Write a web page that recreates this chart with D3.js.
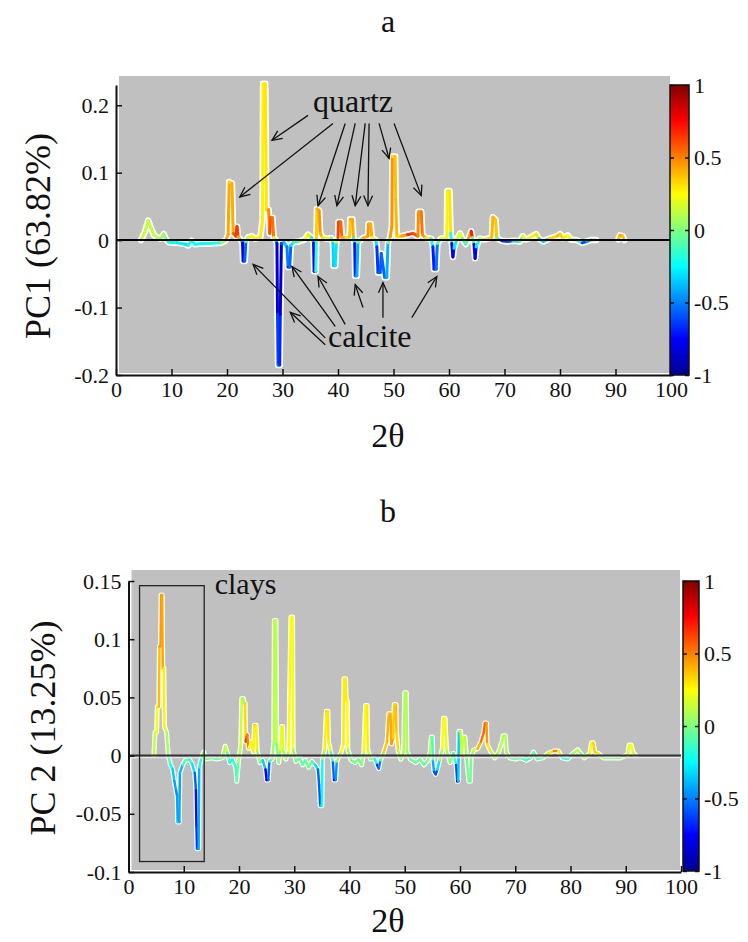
<!DOCTYPE html>
<html>
<head>
<meta charset="utf-8">
<script src="https://cdn.jsdelivr.net/npm/d3@7"></script>
<style>
  body { margin: 0; background: #fff; }
  text { font-family: "Liberation Serif", "Times New Roman", serif; fill: #111; }
</style>
</head>
<body>
<svg id="fig" width="748" height="942"></svg>
<script>

/////////////////////////////////////////////
// datos
/////////////////////////////////////////////

var xTicks    = [0, 10, 20, 30, 40, 50, 60, 70, 80, 90, 100];
var pc1Ticks  = [-0.2, -0.1, 0, 0.1, 0.2];
var pc2Ticks  = [-0.1, -0.05, 0, 0.05, 0.1, 0.15];
var cbarTicks = [-1, -0.5, 0, 0.5, 1];

// escala jet de matlab
var jetStops  = [-1, -0.75, -0.25, 0.25, 0.75, 1];
var jetColors = ["#00008f", "#0000ff", "#00ffff", "#ffff00", "#ff0000", "#800000"];

// [2theta, carga, color]  -- PC1
var pc1 = [
  [4.5, 0.000, 0.15], [5.2, 0.012, 0.15], [5.8, 0.029, 0.12], [6.3, 0.018, 0.12],
  [6.8, 0.008, 0.15], [7.4, 0.004, 0.1], [8.0, 0.002, 0.1], [8.6, 0.009, 0.05],
  [9.0, 0.001, 0.0], [9.5, -0.003, -0.2], [11.0, -0.004, -0.25], [12.5, -0.006, -0.3],
  [13.0, -0.008, -0.3], [13.6, -0.001, -0.1], [14.2, -0.006, -0.25], [15.5, -0.005, -0.25],
  [17.0, -0.005, -0.2], [19.0, -0.004, -0.2], [19.8, 0.000, 0.3], [20.2, 0.008, 0.5],
  [20.4, 0.086, 0.35], [20.9, 0.084, 0.32], [21.1, 0.010, 0.5], [21.6, 0.006, 0.6],
  [21.8, 0.020, 0.7], [22.0, 0.005, 0.6], [22.5, 0.000, 0.2], [22.8, -0.004, -0.8],
  [22.9, -0.031, -0.8], [23.2, -0.031, -0.6], [23.4, -0.002, -0.5], [23.8, 0.004, 0.25],
  [24.5, 0.006, 0.3], [25.0, 0.002, 0.25], [26.0, 0.004, 0.3], [26.4, 0.030, 0.28],
  [26.5, 0.232, 0.27], [26.9, 0.232, 0.27], [27.1, 0.045, 0.32], [27.5, 0.045, 0.35],
  [27.7, 0.010, 0.6], [27.9, 0.033, 0.6], [28.2, 0.033, 0.55], [28.4, 0.004, 0.5],
  [28.8, 0.000, 0.0], [29.0, -0.005, -0.9], [29.1, -0.110, -0.75], [29.2, -0.185, -0.5],
  [29.5, -0.185, -0.5], [29.6, -0.110, -0.85], [29.8, -0.005, -0.9], [30.3, -0.004, -0.3],
  [30.8, -0.010, -0.4], [31.0, -0.040, -0.6], [31.3, -0.040, -0.7], [31.5, -0.008, -0.4],
  [32.0, -0.003, -0.2], [33.0, -0.002, -0.1], [34.0, 0.001, 0.2], [34.6, 0.008, 0.3],
  [35.2, 0.004, 0.3], [35.6, -0.004, -0.8], [35.7, -0.046, -0.7], [36.0, -0.046, -0.6],
  [36.1, 0.000, 0.3], [36.2, 0.046, 0.38], [36.6, 0.044, 0.42], [36.8, 0.010, 0.5],
  [37.2, 0.004, 0.3], [38.0, 0.002, 0.25], [38.8, 0.003, 0.25], [39.1, -0.005, -0.3],
  [39.2, -0.038, -0.35], [39.5, -0.038, -0.4], [39.7, -0.003, -0.2], [40.0, 0.004, 0.6],
  [40.1, 0.027, 0.65], [40.5, 0.027, 0.6], [40.7, 0.004, 0.5], [41.5, 0.003, 0.3],
  [42.1, 0.005, 0.3], [42.2, 0.031, 0.42], [42.6, 0.031, 0.42], [42.8, 0.003, 0.4],
  [43.0, -0.005, -0.8], [43.1, -0.053, -0.6], [43.4, -0.053, -0.5], [43.6, -0.003, -0.3],
  [44.5, 0.003, 0.3], [45.4, 0.006, 0.5], [45.5, 0.024, 0.42], [45.9, 0.024, 0.42],
  [46.1, 0.004, 0.4], [46.8, 0.000, 0.1], [47.0, -0.010, -0.7], [47.2, -0.048, -0.6],
  [47.6, -0.048, -0.55], [47.8, -0.020, -0.6], [48.4, -0.055, -0.5], [48.8, -0.055, -0.5],
  [49.0, -0.004, -0.3], [49.4, 0.005, 0.3], [49.7, 0.020, 0.6], [49.8, 0.124, 0.32],
  [50.3, 0.124, 0.32], [50.4, 0.060, 0.42], [50.6, 0.005, 0.35], [51.5, 0.006, 0.3],
  [52.5, 0.008, 0.6], [53.5, 0.010, 0.7], [54.4, 0.006, 0.5], [54.5, 0.042, 0.45],
  [55.0, 0.042, 0.45], [55.2, 0.008, 0.6], [55.8, 0.003, 0.3], [56.8, 0.002, 0.25],
  [57.1, -0.010, -0.7], [57.3, -0.043, -0.7], [57.7, -0.043, -0.65], [57.9, -0.005, -0.4],
  [58.5, 0.002, 0.25], [59.6, 0.003, 0.25], [59.7, 0.073, 0.3], [60.1, 0.073, 0.3],
  [60.3, 0.010, 0.3], [60.5, -0.005, -0.7], [60.7, -0.025, -0.8], [60.9, -0.012, -0.7],
  [61.5, 0.003, 0.15], [62.0, 0.010, 0.25], [62.4, 0.002, 0.1], [63.0, -0.006, -0.3],
  [63.5, 0.002, 0.1], [64.0, 0.013, 0.8], [64.2, 0.004, 0.6], [64.5, -0.006, -0.7],
  [64.7, -0.027, -0.8], [64.9, -0.010, -0.7], [65.5, 0.002, 0.2], [66.5, 0.001, 0.2],
  [67.7, 0.004, 0.4], [67.9, 0.034, 0.38], [68.4, 0.030, 0.42], [68.6, 0.003, 0.3],
  [69.5, -0.001, -0.4], [70.5, -0.002, -0.9], [71.5, -0.001, -0.3], [72.8, -0.002, -0.3],
  [73.3, 0.006, 0.25], [73.8, 0.001, 0.2], [74.5, 0.003, 0.25], [75.7, 0.009, 0.3],
  [76.2, 0.002, 0.3], [77.0, -0.002, -0.9], [78.0, 0.002, 0.25], [79.5, 0.006, 0.4],
  [80.0, 0.009, 0.38], [80.5, 0.003, 0.3], [81.4, 0.007, 0.25], [81.9, 0.001, 0.2],
  [83.0, 0.000, 0.0], [84.0, -0.004, -0.3], [84.8, -0.002, -0.9], [85.5, 0.000, 0.0],
  [86.5, 0.000, 0.1], [88.0, null, 0], [90.5, 0.001, 0.3], [90.8, 0.007, 0.42],
  [91.3, 0.006, 0.42], [91.6, 0.000, 0.3]
];

// [2theta, carga, color]  -- PC2
var pc2 = [
  [4.6, 0.000, 0.1], [4.8, 0.020, 0.15], [5.1, 0.020, 0.2], [5.2, 0.042, 0.25],
  [5.5, 0.042, 0.3], [5.6, 0.094, 0.45], [5.8, 0.094, 0.45], [5.9, 0.138, 0.45],
  [6.1, 0.138, 0.45], [6.2, 0.075, 0.4], [6.4, 0.075, 0.35], [6.5, 0.025, 0.2],
  [6.9, 0.020, 0.15], [7.2, 0.000, 0.0], [7.6, -0.008, -0.2], [8.0, -0.012, -0.3],
  [8.3, -0.022, -0.4], [8.6, -0.030, -0.45], [8.8, -0.035, -0.5], [8.9, -0.057, -0.35],
  [9.2, -0.057, -0.3], [9.3, -0.015, -0.55], [9.8, -0.008, -0.2], [10.3, -0.004, -0.05],
  [11.0, -0.003, -0.1], [11.5, -0.007, -0.2], [12.0, -0.015, -0.4], [12.2, -0.030, -0.7],
  [12.3, -0.060, -0.75], [12.4, -0.080, -0.55], [12.7, -0.080, -0.5], [12.8, -0.010, -0.3],
  [13.2, -0.002, -0.1], [13.6, 0.003, 0.1], [14.0, -0.003, -0.05], [15.0, -0.002, 0.0],
  [16.0, -0.003, -0.1], [17.0, -0.002, 0.0], [17.5, 0.008, 0.15], [17.9, 0.002, 0.1],
  [18.3, -0.006, -0.3], [18.8, -0.003, -0.1], [19.4, -0.010, -0.2], [19.6, -0.022, -0.1],
  [19.9, -0.005, 0.0], [20.3, 0.008, 0.2], [20.5, 0.049, 0.1], [20.8, 0.049, 0.1],
  [20.9, 0.045, 0.05], [21.1, 0.045, 0.05], [21.2, 0.012, 0.6], [21.5, 0.018, 0.7],
  [21.7, 0.006, 0.3], [22.2, 0.012, 0.2], [22.6, 0.003, 0.2], [22.8, 0.026, 0.35],
  [23.1, 0.026, 0.35], [23.3, 0.004, 0.2], [23.8, -0.006, -0.1], [24.3, -0.004, 0.0],
  [24.8, -0.012, -0.7], [25.0, -0.021, -0.8], [25.3, -0.021, -0.8], [25.5, -0.005, -0.3],
  [26.0, -0.003, 0.0], [26.3, 0.012, 0.1], [26.4, 0.116, 0.12], [26.7, 0.116, 0.12],
  [26.8, 0.010, 0.1], [27.2, -0.006, -0.1], [27.5, 0.005, 0.2], [27.7, 0.025, 0.2],
  [27.9, 0.025, 0.2], [28.0, 0.004, 0.2], [28.5, -0.003, -0.1], [29.0, 0.003, 0.2],
  [29.2, 0.063, 0.27], [29.4, 0.119, 0.25], [29.7, 0.119, 0.25], [29.8, 0.005, 0.2],
  [30.3, -0.005, -0.1], [31.0, -0.002, 0.0], [31.5, -0.008, -0.1], [32.0, -0.004, 0.0],
  [32.6, -0.010, -0.1], [33.2, -0.005, 0.0], [33.8, -0.008, -0.2], [34.3, -0.012, -0.4],
  [34.5, -0.025, -0.7], [34.7, -0.043, -0.45], [35.0, -0.043, -0.35], [35.1, -0.003, -0.1],
  [35.5, 0.005, 0.2], [35.8, 0.038, 0.35], [36.1, 0.038, 0.3], [36.2, 0.012, 0.3],
  [36.6, 0.003, 0.1], [37.0, -0.006, -0.3], [37.2, -0.021, -0.8], [37.5, -0.021, -0.8],
  [37.7, -0.005, -0.1], [38.5, 0.003, 0.2], [38.9, 0.010, 0.3], [39.0, 0.066, 0.27],
  [39.3, 0.066, 0.27], [39.4, 0.047, 0.3], [39.6, 0.047, 0.3], [39.7, 0.005, 0.2],
  [40.3, -0.004, -0.1], [41.0, -0.006, 0.0], [41.6, -0.003, 0.0], [42.2, -0.008, -0.1],
  [42.6, 0.003, 0.2], [42.9, 0.043, 0.27], [43.2, 0.043, 0.27], [43.3, 0.005, 0.3],
  [43.8, -0.003, 0.0], [44.5, -0.002, 0.0], [45.0, -0.008, -0.5], [45.3, -0.011, -0.8],
  [45.6, -0.004, -0.2], [46.2, 0.003, 0.2], [46.8, 0.012, 0.5], [47.1, 0.036, 0.3],
  [47.4, 0.036, 0.35], [47.6, 0.010, 0.5], [47.9, 0.015, 0.4], [48.1, 0.044, 0.3],
  [48.4, 0.044, 0.3], [48.5, 0.020, 0.45], [48.8, 0.004, 0.2], [49.3, -0.003, 0.0],
  [49.8, 0.003, 0.1], [50.0, 0.054, 0.08], [50.3, 0.054, 0.08], [50.4, 0.004, 0.1],
  [51.0, -0.003, 0.0], [52.0, -0.006, -0.1], [52.8, -0.003, 0.0], [53.5, -0.008, -0.1],
  [54.2, -0.004, 0.0], [54.6, 0.003, 0.1], [54.8, 0.016, 0.08], [55.0, 0.016, 0.08],
  [55.1, -0.005, -0.3], [55.3, -0.014, -0.5], [55.6, -0.016, -0.7], [55.9, -0.012, -0.5],
  [56.3, -0.004, -0.1], [56.8, 0.006, 0.2], [57.0, 0.032, 0.27], [57.3, 0.032, 0.27],
  [57.4, 0.020, 0.2], [57.6, 0.004, 0.2], [58.2, -0.006, -0.1], [58.8, 0.002, 0.1],
  [59.3, -0.008, -0.4], [59.5, -0.022, -0.8], [59.7, -0.022, -0.8], [59.8, 0.021, 0.1],
  [60.1, 0.021, 0.1], [60.3, 0.002, 0.1], [60.6, 0.016, 0.2], [60.9, 0.016, 0.2],
  [61.2, -0.003, 0.0], [61.6, -0.022, -0.05], [61.9, -0.022, -0.05], [62.0, -0.002, 0.0],
  [62.5, 0.005, 0.1], [63.2, 0.006, 0.3], [63.8, 0.012, 0.5], [64.3, 0.020, 0.55],
  [64.5, 0.028, 0.55], [64.8, 0.028, 0.5], [64.9, 0.010, 0.4], [65.5, 0.004, 0.2],
  [66.3, -0.002, 0.0], [67.0, 0.003, 0.1], [67.6, 0.012, 0.1], [67.8, 0.017, 0.08],
  [68.2, 0.017, 0.08], [68.4, 0.003, 0.1], [69.0, -0.002, 0.0], [70.0, -0.003, -0.05],
  [71.0, -0.002, 0.0], [72.0, -0.004, -0.2], [72.8, -0.002, -0.1], [73.3, 0.003, 0.1],
  [74.0, -0.003, -0.2], [75.0, -0.002, 0.0], [76.0, 0.002, 0.1], [77.0, 0.004, 0.5],
  [77.8, 0.004, 0.5], [78.5, -0.002, -0.2], [79.5, -0.003, -0.3], [80.5, 0.002, 0.1],
  [81.3, 0.005, 0.1], [81.8, 0.002, 0.1], [82.5, -0.002, -0.1], [83.5, 0.002, 0.2],
  [83.8, 0.011, 0.25], [84.1, 0.011, 0.28], [84.4, 0.003, 0.4], [85.0, 0.002, 0.3],
  [86.0, -0.002, 0.0], [87.5, -0.002, 0.0], [89.0, -0.002, 0.0], [90.4, 0.001, 0.1],
  [90.6, 0.009, 0.25], [91.0, 0.009, 0.25], [91.3, 0.003, 0.2], [91.8, 0.000, 0.1]
];

// flechas [theta0, y0, theta1, y1] en coordenadas de datos
var quartzArrows = [
  [34.6, 0.185, 28.1, 0.148], [39.1, 0.173, 22.3, 0.064], [41.3, 0.173, 36.4, 0.051],
  [43.1, 0.173, 39.8, 0.051], [44.9, 0.173, 43.1, 0.051], [45.6, 0.173, 45.4, 0.051],
  [47.4, 0.173, 49.2, 0.121], [50.1, 0.173, 55.0, 0.066]
];
var calciteArrows = [
  [37.7, -0.145, 24.7, -0.036], [37.7, -0.155, 31.4, -0.107], [39.5, -0.128, 31.7, -0.039],
  [41.3, -0.125, 36.4, -0.054], [44.5, -0.100, 43.1, -0.066], [48.1, -0.115, 48.1, -0.063],
  [53.3, -0.115, 57.8, -0.054]
];
var claysBox = [2, 13.7, -0.091, 0.146];


var svg = d3.select("#fig");

var jet = d3.scaleLinear().domain(jetStops).range(jetColors).interpolate(d3.interpolateRgb).clamp(true);

// gradiente de la barra de color
var grad = svg.append("defs").append("linearGradient")
    .attr("id", "jetgrad")
    .attr("x1", 0).attr("y1", 1).attr("x2", 0).attr("y2", 0);
d3.range(0, 41).forEach(function(i) {
    var v = -1 + i / 20;
    grad.append("stop").attr("offset", (i / 40)).attr("stop-color", jet(v));
});

var fmt = function(d) { return String(d); };


////////////////////////////////////////////////////
// funcion para dibujar un panel
////////////////////////////////////////////////////

function drawPanel(p)
{
    var x = d3.scaleLinear().domain([0, 100]).range([p.left, p.right]);
    var y = d3.scaleLinear().domain(p.yDomain).range([p.bottom, p.top]);

    var g = svg.append("g");

    // fondo gris
    g.append("rect")
        .attr("x", p.left + 3).attr("y", p.bgTop)
        .attr("width", p.right - p.left - 4).attr("height", p.bottom - p.bgTop - 2)
        .attr("fill", "#c0c0c0");

    // espectro: primero el borde blanco y luego los segmentos de color
    var line = d3.line()
        .defined(function(d) { return d[1] !== null; })
        .x(function(d) { return x(d[0]); })
        .y(function(d) { return y(d[1]); });

    g.append("path")
        .datum(p.data)
        .attr("d", line)
        .attr("fill", "none")
        .attr("stroke", "#ffffff")
        .attr("stroke-width", p.halo)
        .attr("stroke-linejoin", "round")
        .attr("stroke-linecap", "round");

    var segs = [];
    for (var i = 0; i < p.data.length - 1; i++) {
        if (p.data[i][1] === null || p.data[i + 1][1] === null) continue;
        segs.push([p.data[i], p.data[i + 1]]);
    }

    g.selectAll(".seg")
        .data(segs)
        .enter().append("path")
        .attr("class", "seg")
        .attr("d", line)
        .attr("fill", "none")
        .attr("stroke", function(d) { return jet((d[0][2] + d[1][2]) / 2); })
        .attr("stroke-width", p.lw)
        .attr("stroke-linecap", "round");

    // linea del cero
    if (p.zeroLight) {
        g.append("line")
            .attr("x1", x(0)).attr("x2", x(100))
            .attr("y1", y(0) + 2).attr("y2", y(0) + 2)
            .attr("stroke", "#e6e6e6").attr("stroke-width", 1.2);
    }
    g.append("line")
        .attr("x1", x(0)).attr("x2", x(100))
        .attr("y1", y(0)).attr("y2", y(0))
        .attr("stroke", p.zeroColor).attr("stroke-width", 2);

    // ejes
    var xAxis = d3.axisBottom(x).tickValues(xTicks).tickFormat(fmt)
        .tickSizeInner(-6).tickSizeOuter(0).tickPadding(6);
    var yAxis = d3.axisLeft(y).tickValues(p.yTicks).tickFormat(fmt)
        .tickSizeInner(-6).tickSizeOuter(0).tickPadding(7);

    var gx = g.append("g")
        .attr("transform", "translate(0," + p.bottom + ")")
        .call(xAxis);
    var gy = g.append("g")
        .attr("transform", "translate(" + p.left + ",0)")
        .call(yAxis);

    [gx, gy].forEach(function(a) {
        a.select(".domain").attr("stroke", "#111").attr("stroke-width", 2);
        a.selectAll(".tick line").attr("stroke", "#111").attr("stroke-width", 1.5);
        a.selectAll("text")
            .style("font-family", "Liberation Serif")
            .style("font-size", "22px")
            .attr("fill", "#222");
    });

    // barra de color
    var cb = d3.scaleLinear().domain([-1, 1]).range([p.bottom + p.cbDrop, p.top]);
    g.append("rect")
        .attr("x", p.cbX).attr("y", p.top)
        .attr("width", p.cbW).attr("height", p.bottom + p.cbDrop - p.top)
        .attr("fill", "url(#jetgrad)")
        .attr("stroke", "#111").attr("stroke-width", 1.5);

    var cbAxis = d3.axisRight(cb).tickValues(cbarTicks).tickFormat(fmt)
        .tickSizeInner(-4).tickSizeOuter(0).tickPadding(5);
    var gc = g.append("g")
        .attr("transform", "translate(" + (p.cbX + p.cbW) + ",0)")
        .call(cbAxis);
    gc.select(".domain").remove();
    gc.selectAll(".tick line").attr("stroke", "#111").attr("stroke-width", 1.5);
    gc.selectAll("text")
        .style("font-family", "Liberation Serif")
        .style("font-size", "22px")
        .attr("fill", "#222");

    var gc2 = g.append("g")
        .attr("transform", "translate(" + p.cbX + ",0)")
        .call(d3.axisLeft(cb).tickValues(cbarTicks).tickFormat("").tickSizeInner(-4).tickSizeOuter(0));
    gc2.select(".domain").remove();
    gc2.selectAll(".tick line").attr("stroke", "#111").attr("stroke-width", 1.5);

    // etiquetas
    g.append("text")
        .attr("x", 388).attr("y", p.titleY)
        .attr("text-anchor", "middle")
        .style("font-size", "32px")
        .text(p.title);

    g.append("text")
        .attr("x", 388).attr("y", p.xLabelY)
        .attr("text-anchor", "middle")
        .style("font-size", "34px")
        .text("2θ");

    g.append("text")
        .attr("transform", "translate(" + p.yLabelX + "," + p.yLabelY + ") rotate(-90)")
        .attr("text-anchor", "middle")
        .style("font-size", "36px")
        .text(p.yLabel);

    return {x: x, y: y, g: g};
}


////////////////////////////////////////////////////
// panel a
////////////////////////////////////////////////////

var A = drawPanel({
    data: pc1, yDomain: [-0.2, 0.23], yTicks: pc1Ticks,
    left: 116, right: 671, top: 85, bottom: 375, bgTop: 76,
    cbX: 670, cbW: 19, cbDrop: 0,
    lw: 3, halo: 6.5, zeroColor: "#000", zeroLight: false,
    title: "a", titleY: 32, xLabelY: 447,
    yLabel: "PC1 (63.82%)", yLabelX: 50, yLabelY: 236
});

// flechas
function arrow(g, x, y, a, sw)
{
    var x0 = x(a[0]), y0 = y(a[1]), x1 = x(a[2]), y1 = y(a[3]);
    var ang = Math.atan2(y1 - y0, x1 - x0);
    var L = 11, w = 0.42;
    g.append("line")
        .attr("x1", x0).attr("y1", y0).attr("x2", x1).attr("y2", y1)
        .attr("stroke", "#111").attr("stroke-width", sw);
    g.append("path")
        .attr("d", "M" + (x1 - L * Math.cos(ang - w)) + "," + (y1 - L * Math.sin(ang - w)) +
                   "L" + x1 + "," + y1 +
                   "L" + (x1 - L * Math.cos(ang + w)) + "," + (y1 - L * Math.sin(ang + w)))
        .attr("fill", "none").attr("stroke", "#111").attr("stroke-width", sw);
}

quartzArrows.forEach(function(a) { arrow(A.g, A.x, A.y, a, 1.3); });
calciteArrows.forEach(function(a) { arrow(A.g, A.x, A.y, a, 1.3); });

A.g.append("text")
    .attr("x", A.x(35.5)).attr("y", A.y(0.190))
    .style("font-size", "32px")
    .text("quartz");

A.g.append("text")
    .attr("x", A.x(38.2)).attr("y", A.y(-0.158))
    .style("font-size", "32px")
    .text("calcite");


////////////////////////////////////////////////////
// panel b
////////////////////////////////////////////////////

var B = drawPanel({
    data: pc2, yDomain: [-0.1, 0.15], yTicks: pc2Ticks,
    left: 128.5, right: 681, top: 581, bottom: 872, bgTop: 570,
    cbX: 683, cbW: 16, cbDrop: -1,
    lw: 2.5, halo: 5, zeroColor: "#333", zeroLight: true,
    title: "b", titleY: 522, xLabelY: 932,
    yLabel: "PC 2 (13.25%)", yLabelX: 55, yLabelY: 728
});

B.g.append("rect")
    .attr("x", B.x(claysBox[0])).attr("y", B.y(claysBox[3]))
    .attr("width", B.x(claysBox[1]) - B.x(claysBox[0]))
    .attr("height", B.y(claysBox[2]) - B.y(claysBox[3]))
    .attr("fill", "none").attr("stroke", "#222").attr("stroke-width", 1.3);

B.g.append("text")
    .attr("x", B.x(15.6)).attr("y", B.y(0.139))
    .style("font-size", "30px")
    .text("clays");

</script>
</body>
</html>
